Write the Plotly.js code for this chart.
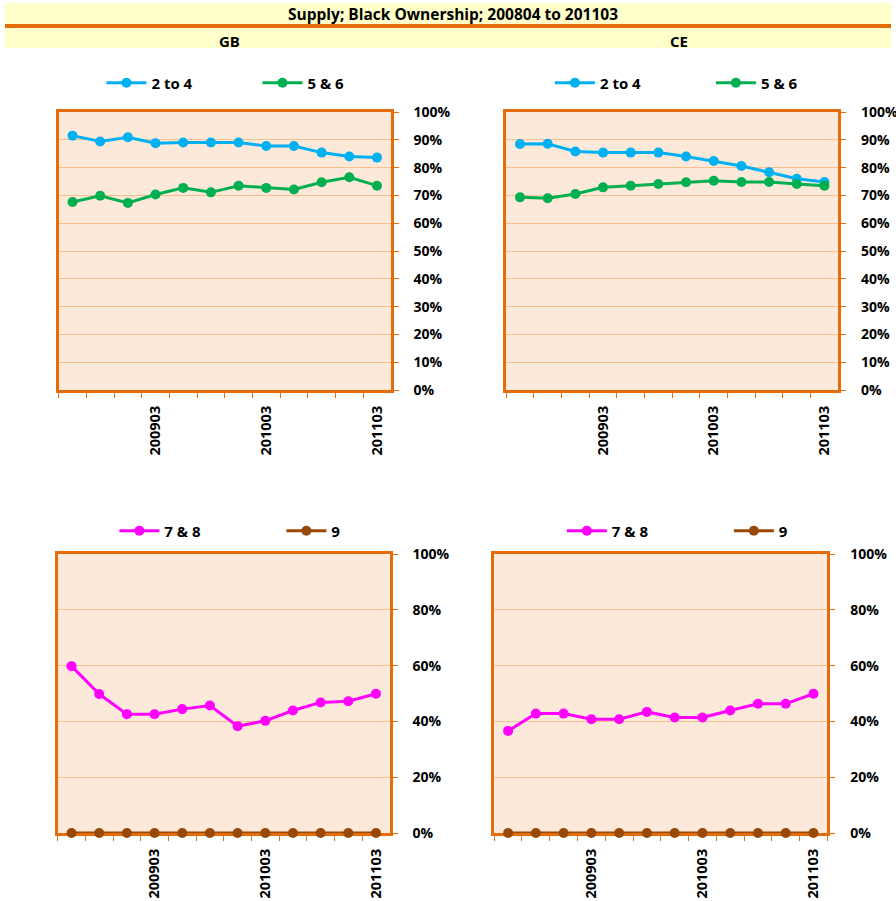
<!DOCTYPE html>
<html>
<head>
<meta charset="utf-8">
<script src="https://cdn.plot.ly/plotly-3.0.1.min.js"></script>
<style>html,body{margin:0;padding:0;background:#fff;}#chart{width:896px;height:901px;}</style>
</head>
<body>
<div id="chart"></div>
<script>
const categories = ['200806','200809','200812','200903','200906','200909','200912','201003','201006','201009','201012','201103'];
const tickLabels = ['','','','200903','','','','201003','','','','201103'];

const gb_2to4 = [0.915, 0.894, 0.909, 0.888, 0.890, 0.890, 0.890, 0.878, 0.878, 0.854, 0.840, 0.836];
const gb_5and6 = [0.676, 0.699, 0.673, 0.703, 0.727, 0.711, 0.735, 0.727, 0.721, 0.747, 0.765, 0.735];
const ce_2to4 = [0.885, 0.886, 0.858, 0.854, 0.854, 0.854, 0.840, 0.824, 0.806, 0.783, 0.760, 0.748];
const ce_5and6 = [0.693, 0.690, 0.705, 0.729, 0.735, 0.741, 0.747, 0.753, 0.748, 0.748, 0.741, 0.735];
const gb_7and8 = [0.598, 0.498, 0.426, 0.426, 0.444, 0.457, 0.383, 0.402, 0.439, 0.468, 0.472, 0.499];
const gb_9 = [0, 0, 0, 0, 0, 0, 0, 0, 0, 0, 0, 0];
const ce_7and8 = [0.366, 0.428, 0.428, 0.408, 0.408, 0.434, 0.414, 0.414, 0.439, 0.463, 0.463, 0.499];
const ce_9 = [0, 0, 0, 0, 0, 0, 0, 0, 0, 0, 0, 0];

const W = 896, H = 901;
const FONT = '"Open Sans", Lato, sans-serif';
const ORANGE = '#E46C0A';
const px = v => v / W;
const py = v => 1 - v / H;

function xAxis(l, r, anchor, below) {
  return {
    domain: [px(l), px(r)], anchor: anchor, type: 'category',
    range: [-0.5, categories.length - 0.5],
    tickmode: 'array', tickvals: categories, ticktext: tickLabels,
    tickson: 'boundaries', ticks: 'outside', ticklen: 5, tickwidth: 1, tickcolor: ORANGE,
    tickangle: -90, ticklabelstandoff: 7,
    showgrid: false, zeroline: false,
    showline: true, linecolor: ORANGE, linewidth: 3, mirror: true,
    layer: below ? 'below traces' : 'above traces',
    tickfont: {family: FONT, size: 14.5, weight: 'bold', color: '#000'},
    fixedrange: true
  };
}
function yAxis(t, b, anchor, dtick) {
  return {
    domain: [py(b), py(t)], anchor: anchor, side: 'right',
    range: [0, 1], dtick: dtick, tick0: 0, tickformat: '.0%',
    ticks: 'outside', ticklen: 5, tickwidth: 1, tickcolor: ORANGE, ticklabelstandoff: 12,
    showgrid: true, gridcolor: '#FAC090', gridwidth: 1, zeroline: false,
    showline: true, linecolor: ORANGE, linewidth: 3, mirror: true,
    tickfont: {family: FONT, size: 14, weight: 'bold', color: '#000'},
    fixedrange: true
  };
}
function tr(y, name, color, xa, ya, lg, size) {
  return {
    x: categories, y: y, name: name, type: 'scatter', mode: 'lines+markers',
    line: {color: color, width: 3}, marker: {color: color, size: size},
    xaxis: xa, yaxis: ya, legend: lg, cliponaxis: false, hoverinfo: 'skip'
  };
}
function legend(x, y, ew) {
  return {
    orientation: 'h', x: px(x), y: py(y), xanchor: 'left', yanchor: 'middle',
    bgcolor: 'rgba(0,0,0,0)', borderwidth: 0, itemwidth: 40,
    entrywidth: ew, entrywidthmode: 'pixels',
    font: {family: FONT, size: 15, weight: 'bold', color: '#000'}
  };
}

const data = [
  tr(gb_2to4, '2 to 4', '#00B0F0', 'x', 'y', 'legend', 10),
  tr(gb_5and6, '5 & 6', '#00B050', 'x', 'y', 'legend', 10),
  tr(ce_2to4, '2 to 4', '#00B0F0', 'x2', 'y2', 'legend2', 10),
  tr(ce_5and6, '5 & 6', '#00B050', 'x2', 'y2', 'legend2', 10),
  tr(gb_7and8, '7 & 8', '#FF00FF', 'x3', 'y3', 'legend3', 10),
  tr(gb_9, '9', '#984807', 'x3', 'y3', 'legend3', 10),
  tr(ce_7and8, '7 & 8', '#FF00FF', 'x4', 'y4', 'legend4', 10),
  tr(ce_9, '9', '#984807', 'x4', 'y4', 'legend4', 10)
];

const layout = {
  width: W, height: H, margin: {l: 0, r: 0, t: 0, b: 0},
  paper_bgcolor: '#FFFFFF', plot_bgcolor: '#FDE9D9',
  font: {family: FONT, color: '#000'},
  showlegend: true,
  xaxis: xAxis(59, 393, 'y', false),
  yaxis: yAxis(112, 390, 'x', 0.1),
  xaxis2: xAxis(509, 843, 'y2', false),
  yaxis2: yAxis(112, 390, 'x2', 0.1),
  xaxis3: xAxis(58, 392, 'y3', true),
  yaxis3: yAxis(554, 833, 'x3', 0.2),
  xaxis4: xAxis(497, 832, 'y4', true),
  yaxis4: yAxis(554, 833, 'x4', 0.2),
  legend: legend(102, 83, 101),
  legend2: legend(553, 83, 106),
  legend3: legend(115, 531, 112),
  legend4: legend(565, 531, 112),
  shapes: [
    {type: 'rect', xref: 'paper', yref: 'paper', x0: px(5), x1: 1, y0: py(24), y1: py(3), fillcolor: '#FFFFCC', line: {width: 0}, layer: 'below'},
    {type: 'rect', xref: 'paper', yref: 'paper', x0: px(5), x1: 1, y0: py(28), y1: py(24), fillcolor: ORANGE, line: {width: 0}, layer: 'below'},
    {type: 'rect', xref: 'paper', yref: 'paper', x0: px(5), x1: 1, y0: py(48), y1: py(28), fillcolor: '#FFFFCC', line: {width: 0}, layer: 'below'}
  ],
  annotations: [
    {text: 'Supply; Black Ownership; 200804 to 201103', xref: 'paper', yref: 'paper', x: px(456), y: py(14), showarrow: false, xanchor: 'center', yanchor: 'middle', font: {family: FONT, size: 15.5, weight: 'bold', color: '#000'}},
    {text: 'GB', xref: 'paper', yref: 'paper', x: px(231), y: py(41), showarrow: false, xanchor: 'center', yanchor: 'middle', font: {family: FONT, size: 15, weight: 'bold', color: '#000'}},
    {text: 'CE', xref: 'paper', yref: 'paper', x: px(683), y: py(41), showarrow: false, xanchor: 'center', yanchor: 'middle', font: {family: FONT, size: 15, weight: 'bold', color: '#000'}}
  ]
};

Plotly.newPlot('chart', data, layout, {displayModeBar: false, staticPlot: true});
</script>
</body>
</html>
